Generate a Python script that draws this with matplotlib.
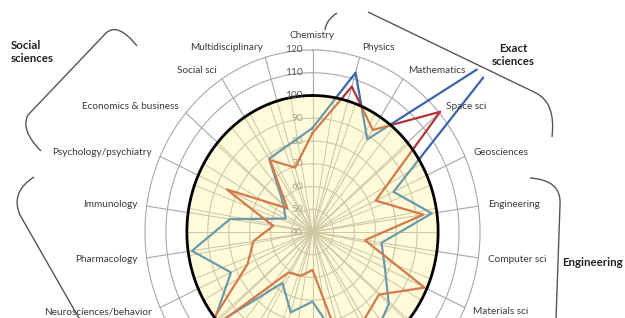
import matplotlib
matplotlib.use("Agg")
import matplotlib.pyplot as plt
import numpy as np
from matplotlib.path import Path
from matplotlib.patches import PathPatch

plt.rcParams['font.family'] = ['Lato', 'DejaVu Sans']

# 22 fields, clockwise from the top (the lower ones fall outside the crop)
categories = ["Chemistry", "Physics", "Mathematics", "Space sci", "Geosciences",
              "Engineering", "Computer sci", "Materials sci", "Clinical medicine",
              "Molecular biology", "Biology & biochemistry", "Microbiology",
              "Environment/ecology", "Plant & animal sci", "Agricultural sci",
              "Neurosciences/behavior", "Pharmacology", "Immunology",
              "Psychology/psychiatry", "Economics & business", "Social sci",
              "Multidisciplinary"]
hidden = ["Clinical medicine", "Molecular biology", "Biology & biochemistry",
          "Microbiology", "Environment/ecology", "Plant & animal sci",
          "Agricultural sci"]

blue_values = [85.7, 113, 88.4, 160, 82.5, 97.6, 73.3, 78, 88.2, 94.8, 93,
               70.6, 76.8, 66.6, 103.4, 82.8, 98.2, 79.8, 54.2, 58.2, 78.3, 80]
red_values = [83.5, 106.6, 93.3, 120.7, 73.2, 93.5, 65.3, 98.8, 82, 85.7, 100,
              56.7, 60.1, 61.1, 108.6, 74.1, 68.5, 59, 85, 55.9, 77.6, 69.5]

ring_values = [40, 50, 60, 70, 80, 90, 100, 110, 120]
ring_labels = ["40", "50", "60", "70", "80", "90", "100", "110", "120"]
reference_level = 100

groups = ["Social\nsciences", "Exact\nsciences", "Engineering"]

# layout (pixels of the 625x318 canvas)
W, H = 625, 318
cx, cy = 312.5, 232
sx, sy = 2.094, 2.275          # pixels per unit, horizontally / vertically
R_MIN, R_MAX = 40, 146.5

span = R_MAX - R_MIN
fig = plt.figure(figsize=(W / 100, H / 100), dpi=100)
ax = fig.add_axes([(cx - span * sx) / W, (H - cy - span * sy) / H,
                   2 * span * sx / W, 2 * span * sy / H], projection='polar')
ax.set_aspect('auto')
ax.set_theta_zero_location('N')
ax.set_theta_direction(-1)
ax.set_ylim(R_MIN, R_MAX)
ax.axis('off')

n = len(categories)
theta = np.linspace(0, 2 * np.pi, n, endpoint=False)
dense = np.linspace(0, 2 * np.pi, 400)
tc = np.append(theta, theta[0])
blue_c = np.append(blue_values, blue_values[0])
red_c = np.append(red_values, red_values[0])
grid_c = '#a8a8a8'

# outer grid and the series as seen outside the disk
for t in theta:
    ax.plot([t, t], [R_MIN, ring_values[-1]], color=grid_c, lw=0.8, zorder=1)
for v in ring_values[1:]:
    ax.plot(dense, np.full_like(dense, v), color=grid_c, lw=0.8, zorder=1)
ax.plot(tc, blue_c, color='#3a66a8', lw=1.6, zorder=2)
ax.plot(tc, red_c, color='#ad3636', lw=1.6, zorder=2)

# yellow reference disk
disk = ax.fill(dense, np.full_like(dense, reference_level), color='#fffada',
               lw=0, zorder=3)[0]

inner = []
olive = '#cdc8a2'
for t in theta:
    inner += ax.plot([t, t], [R_MIN, reference_level], color=olive, lw=0.8, zorder=3.1)
for t in np.radians(np.arange(0, 360, 10)):
    inner += ax.plot([t, t], [R_MIN, reference_level], color=olive, lw=0.7, zorder=3.1)
for v in ring_values[1:-2]:
    inner += ax.plot(dense, np.full_like(dense, v), color=olive, lw=0.8, zorder=3.1)
inner += ax.plot(tc, blue_c, color='#6b9aaa', lw=1.6, zorder=3.5)
inner += ax.plot(tc, red_c, color='#d27a4a', lw=1.6, zorder=3.5)
for art in inner:
    art.set_clip_path(disk)

ax.plot(dense, np.full_like(dense, reference_level), color='black', lw=2, zorder=4)

for v, lab in zip(ring_values, ring_labels):
    inside = v < reference_level
    ax.annotate(lab, xy=(0, v), xytext=(-7, 0), textcoords='offset points',
                ha='right', va='center', fontsize=7.3,
                color='#a9a58a' if inside else '#555555', zorder=3.3 if inside else 6)

for t, name in zip(theta, categories):
    if name in hidden:
        continue
    s, c = np.sin(t), np.cos(t)
    ha = 'left' if s > 0.1 else ('right' if s < -0.1 else 'center')
    va = 'bottom' if c > 0.99 else 'center'
    ax.text(t, 124.5, name, ha=ha, va=va, fontsize=7.2, color='#3a3a3a')

# group brackets drawn in canvas pixels
ov = fig.add_axes([0, 0, 1, 1])
ov.set_xlim(0, W)
ov.set_ylim(H, 0)
ov.axis('off')

C3, L = Path.CURVE3, Path.LINETO
brackets = [
    ([(137, 46), (118, 22), (106, 33), (28, 115), (20, 130), (41, 151)],
     [Path.MOVETO, C3, C3, L, C3, C3]),
    ([(34, 177), (10, 192), (20, 215), (80, 320)],
     [Path.MOVETO, C3, C3, L]),
    ([(337, 13), (326, 20), (325, 30)],
     [Path.MOVETO, C3, C3]),
    ([(368, 12), (536, 93), (556, 103), (552, 137)],
     [Path.MOVETO, L, C3, C3]),
    ([(530, 178), (562, 180), (560, 205), (556, 320)],
     [Path.MOVETO, C3, C3, L]),
]
for verts, codes in brackets:
    ov.add_patch(PathPatch(Path(verts, codes), fill=False, edgecolor='#555555', lw=1.0))

ov.text(11, 52, groups[0], ha='left', va='center', fontsize=8.3, fontweight='bold',
        color='#222222', linespacing=1.15)
ov.text(513, 55, groups[1], ha='center', va='center', fontsize=8.3, fontweight='bold',
        color='#222222', linespacing=1.15)
ov.text(562, 263, groups[2], ha='left', va='center', fontsize=8.3, fontweight='bold',
        color='#222222')

fig.savefig("out.png", dpi=100)
